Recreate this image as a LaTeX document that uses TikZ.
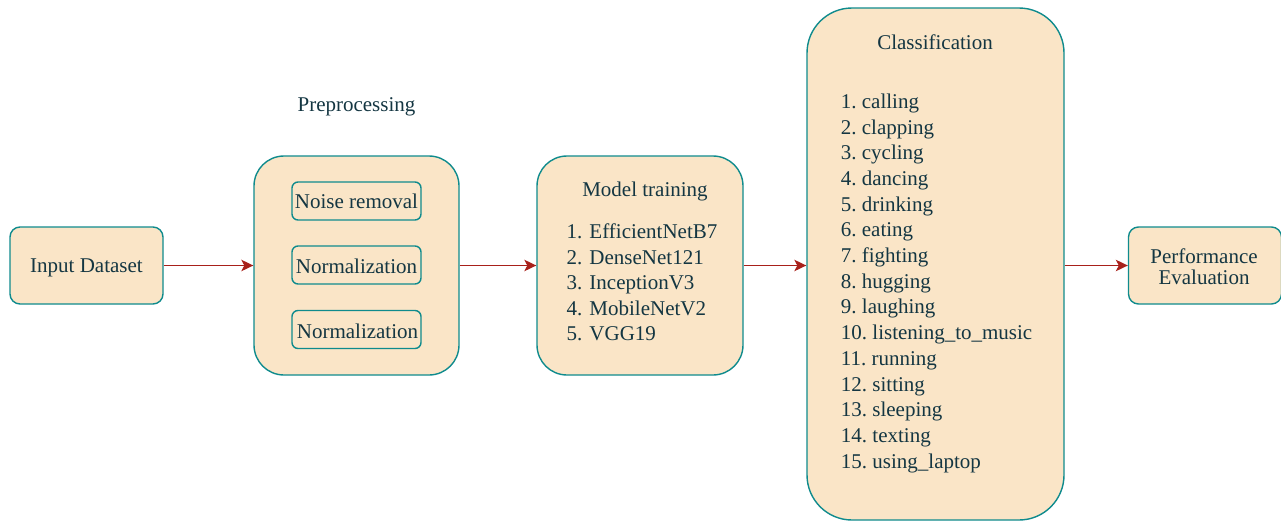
\documentclass[tikz,border=0pt]{standalone}
\usepackage{fontspec}
\setmainfont{Liberation Serif}
\usetikzlibrary{arrows.meta}
\definecolor{boxfill}{HTML}{FAE5C7}
\definecolor{boxline}{HTML}{0F8B8D}
\definecolor{txt}{HTML}{143642}
\definecolor{arrowc}{HTML}{A8201A}
\tikzset{
  blk/.style={draw=boxline, fill=boxfill, line width=1.4pt, inner sep=0pt},
  lbl/.style={text=txt, inner sep=0pt, anchor=base, font=\fontsize{21}{25.7}\selectfont},
  lst/.style={lbl, anchor=base west},
  flow/.style={draw=arrowc, line width=1.3pt, -{Stealth[length=12pt,width=11.5pt,inset=3pt]}}
}
\begin{document}
\begin{tikzpicture}[x=1pt,y=-1pt]
\useasboundingbox (0,0) rectangle (1281,522);

% stage boxes
\node[blk, rounded corners=10pt, minimum width=153pt, minimum height=77pt] (inp) at (86.5,265.5) {};
\node[blk, rounded corners=30pt, minimum width=205pt, minimum height=219pt] (pre) at (356.5,265.5) {};
\node[blk, rounded corners=6pt, minimum width=129pt, minimum height=38pt] (n1) at (356.5,201) {};
\node[blk, rounded corners=6pt, minimum width=129pt, minimum height=38pt] (n2) at (356.5,265) {};
\node[blk, rounded corners=6pt, minimum width=129pt, minimum height=38pt] (n3) at (356.5,329.5) {};
\node[blk, rounded corners=30pt, minimum width=206pt, minimum height=219pt] (mt) at (640,265.5) {};
\node[blk, rounded corners=45pt, minimum width=257pt, minimum height=512pt] (cls) at (935.5,264) {};
\node[blk, rounded corners=10pt, minimum width=153pt, minimum height=77pt] (perf) at (1205,265.5) {};

% texts
\node[lbl] (tinp) at (86.5,272) {Input Dataset};
\node[lbl] (tpre) at (356.5,111) {Preprocessing};
\node[lbl] (tn1) at (356.5,208.5) {Noise removal};
\node[lbl] (tn2) at (356.5,273) {Normalization};
\node[lbl] (tn3) at (357.5,338) {Normalization};
\node[lbl] (tmt) at (645,196) {Model training};
\node[lst] (m1) at (566.5,238.5) {1. EfficientNetB7};
\node[lst] (m2) at (566.5,264) {2. DenseNet121};
\node[lst] (m3) at (566.5,289.5) {3. InceptionV3};
\node[lst] (m4) at (566.5,315) {4. MobileNetV2};
\node[lst] (m5) at (566.5,340.5) {5. VGG19};
\node[lbl] (tcls) at (935,49.3) {Classification};
\foreach [count=\i] \w in {calling,clapping,cycling,dancing,drinking,eating,fighting,hugging,laughing,listening\_to\_music,running,sitting,sleeping,texting,using\_laptop}
  \node[lst] (c\i) at (840.7,{108.3+(\i-1)*25.71}) {\i.\ \w};
\node[lbl] (tp1) at (1204,263.3) {Performance};
\node[lbl] (tp2) at (1204,284) {Evaluation};

% connectors
\draw[flow] (inp.east) -- (pre.west);
\draw[flow] (pre.east) -- (mt.west);
\draw[flow] (mt.east) -- (cls.west |- mt.east);
\draw[flow] (cls.east |- perf.west) -- (perf.west);
\end{tikzpicture}
\end{document}
